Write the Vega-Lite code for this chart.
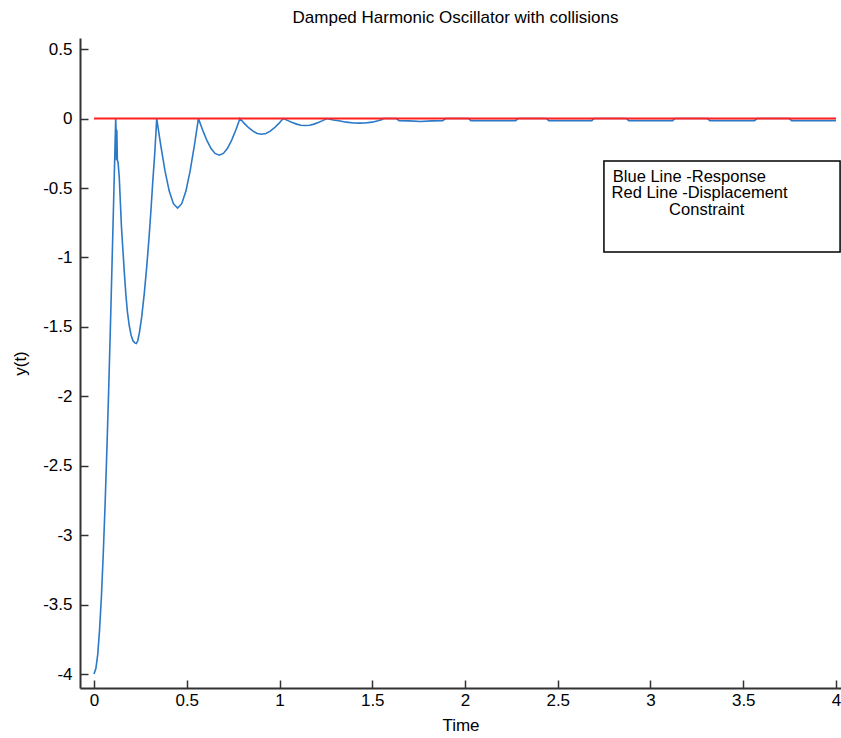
{
  "$schema": "https://vega.github.io/schema/vega-lite/v6.json",
  "width": 761,
  "height": 650,
  "autosize": {"type": "none"},
  "padding": {"left": 80, "top": 38, "right": 0, "bottom": 50},
  "background": "white",
  "title": {"text": "Damped Harmonic Oscillator with collisions", "font": "Liberation Sans", "fontSize": 17, "fontWeight": "normal", "color": "#000000", "anchor": "middle", "offset": 11, "dx": -5},
  "config": {
    "view": {"stroke": null},
    "axis": {"labelFont": "Liberation Sans", "titleFont": "Liberation Sans", "labelFontSize": 17, "titleFontSize": 17, "titleFontWeight": "normal", "labelColor": "#000000", "titleColor": "#000000", "domainColor": "#333333", "tickColor": "#333333", "domainWidth": 2, "tickWidth": 1.5, "tickSize": -8, "grid": false, "labelFlush": false}
  },
  "datasets": {
    "response": [
      {"t": 0, "y": -4.0}, {"t": 0.01, "y": -3.96}, {"t": 0.02, "y": -3.86}, {"t": 0.03, "y": -3.68}, {"t": 0.04, "y": -3.44},
      {"t": 0.05, "y": -3.13}, {"t": 0.06, "y": -2.77}, {"t": 0.07, "y": -2.36}, {"t": 0.08, "y": -1.91}, {"t": 0.09, "y": -1.42},
      {"t": 0.1, "y": -0.9}, {"t": 0.108, "y": -0.48}, {"t": 0.114, "y": -0.16}, {"t": 0.117, "y": 0},
      {"t": 0.119, "y": -0.08}, {"t": 0.121, "y": -0.3}, {"t": 0.123, "y": -0.08}, {"t": 0.126, "y": -0.3}, {"t": 0.13, "y": -0.32},
      {"t": 0.136, "y": -0.42}, {"t": 0.142, "y": -0.6}, {"t": 0.148, "y": -0.78}, {"t": 0.156, "y": -0.95}, {"t": 0.164, "y": -1.12},
      {"t": 0.172, "y": -1.27}, {"t": 0.18, "y": -1.39}, {"t": 0.19, "y": -1.49}, {"t": 0.2, "y": -1.56}, {"t": 0.21, "y": -1.6},
      {"t": 0.22, "y": -1.615}, {"t": 0.228, "y": -1.62}, {"t": 0.236, "y": -1.6}, {"t": 0.245, "y": -1.54}, {"t": 0.257, "y": -1.43},
      {"t": 0.271, "y": -1.26}, {"t": 0.284, "y": -1.07}, {"t": 0.296, "y": -0.87}, {"t": 0.307, "y": -0.66}, {"t": 0.316, "y": -0.47},
      {"t": 0.327, "y": -0.26}, {"t": 0.334, "y": -0.1}, {"t": 0.338, "y": 0},
      {"t": 0.3605, "y": -0.199}, {"t": 0.383, "y": -0.379}, {"t": 0.4055, "y": -0.522}, {"t": 0.428, "y": -0.613}, {"t": 0.4505, "y": -0.645},
      {"t": 0.473, "y": -0.613}, {"t": 0.4955, "y": -0.522}, {"t": 0.518, "y": -0.379}, {"t": 0.5405, "y": -0.199}, {"t": 0.563, "y": 0},
      {"t": 0.5854, "y": -0.082}, {"t": 0.6078, "y": -0.155}, {"t": 0.6302, "y": -0.214}, {"t": 0.6526, "y": -0.251}, {"t": 0.675, "y": -0.264},
      {"t": 0.6974, "y": -0.251}, {"t": 0.7198, "y": -0.214}, {"t": 0.7422, "y": -0.155}, {"t": 0.7646, "y": -0.082}, {"t": 0.787, "y": 0},
      {"t": 0.8103, "y": -0.035}, {"t": 0.8336, "y": -0.066}, {"t": 0.8569, "y": -0.091}, {"t": 0.8802, "y": -0.107}, {"t": 0.9035, "y": -0.113},
      {"t": 0.9268, "y": -0.107}, {"t": 0.9501, "y": -0.091}, {"t": 0.9734, "y": -0.066}, {"t": 0.9967, "y": -0.035}, {"t": 1.02, "y": 0},
      {"t": 1.0454, "y": -0.015}, {"t": 1.0688, "y": -0.029}, {"t": 1.0922, "y": -0.04}, {"t": 1.1156, "y": -0.048}, {"t": 1.139, "y": -0.05},
      {"t": 1.1624, "y": -0.048}, {"t": 1.1858, "y": -0.04}, {"t": 1.2092, "y": -0.029}, {"t": 1.2326, "y": -0.015}, {"t": 1.256, "y": 0},
      {"t": 1.29, "y": -0.01}, {"t": 1.32, "y": -0.016}, {"t": 1.36, "y": -0.026}, {"t": 1.4, "y": -0.032}, {"t": 1.43, "y": -0.033},
      {"t": 1.46, "y": -0.032}, {"t": 1.5, "y": -0.026}, {"t": 1.53, "y": -0.016}, {"t": 1.55, "y": -0.008}, {"t": 1.56, "y": 0},
      {"t": 1.63, "y": 0}, {"t": 1.645, "y": -0.015}, {"t": 1.7, "y": -0.017}, {"t": 1.76, "y": -0.021}, {"t": 1.82, "y": -0.017},
      {"t": 1.88, "y": -0.015}, {"t": 1.895, "y": 0},
      {"t": 2.02, "y": 0}, {"t": 2.032, "y": -0.015}, {"t": 2.273, "y": -0.015}, {"t": 2.285, "y": 0},
      {"t": 2.44, "y": 0}, {"t": 2.452, "y": -0.015}, {"t": 2.683, "y": -0.015}, {"t": 2.695, "y": 0},
      {"t": 2.871, "y": 0}, {"t": 2.883, "y": -0.015}, {"t": 3.119, "y": -0.015}, {"t": 3.131, "y": 0},
      {"t": 3.308, "y": 0}, {"t": 3.32, "y": -0.015}, {"t": 3.561, "y": -0.015}, {"t": 3.573, "y": 0},
      {"t": 3.749, "y": 0}, {"t": 3.761, "y": -0.015}, {"t": 4.0, "y": -0.015}
    ],
    "constraint": [{"t": 0, "y": 0}, {"t": 4.0, "y": 0}],
    "box": [{"t": 2.749, "t2": 4.022, "y": -0.306, "y2": -0.961}],
    "notesLeft": [
      {"t": 2.797, "y": -0.455, "label": "Blue Line -Response"},
      {"t": 2.79, "y": -0.575, "label": "Red Line -Displacement"}
    ],
    "notesCenter": [{"t": 3.303, "y": -0.695, "label": "Constraint"}]
  },
  "layer": [
    {
      "data": {"name": "response"},
      "mark": {"type": "line", "color": "#2c79c7", "strokeWidth": 1.6, "clip": true},
      "encoding": {
        "x": {"field": "t", "type": "quantitative", "scale": {"domain": [-0.0755, 4.027], "nice": false, "zero": false},
          "axis": {"title": "Time", "values": [0, 0.5, 1, 1.5, 2, 2.5, 3, 3.5, 4], "format": "~g", "labelExpr": "replace(datum.label, '\u2212', '-')", "labelPadding": 12, "titlePadding": 9}},
        "y": {"field": "y", "type": "quantitative", "scale": {"domain": [-4.1, 0.58], "nice": false, "zero": false},
          "axis": {"title": "y(t)", "values": [-4, -3.5, -3, -2.5, -2, -1.5, -1, -0.5, 0, 0.5], "format": "~g", "labelExpr": "replace(datum.label, '\u2212', '-')", "labelPadding": 16, "titlePadding": 13}}
      }
    },
    {
      "data": {"name": "constraint"},
      "mark": {"type": "line", "color": "#ff2020", "strokeWidth": 2},
      "encoding": {
        "x": {"field": "t", "type": "quantitative"},
        "y": {"field": "y", "type": "quantitative"}
      }
    },
    {
      "data": {"name": "box"},
      "mark": {"type": "rect", "fill": "white", "stroke": "#000000", "strokeWidth": 1.5},
      "encoding": {
        "x": {"field": "t", "type": "quantitative"},
        "x2": {"field": "t2"},
        "y": {"field": "y", "type": "quantitative"},
        "y2": {"field": "y2"}
      }
    },
    {
      "data": {"name": "notesLeft"},
      "mark": {"type": "text", "align": "left", "baseline": "alphabetic", "font": "Liberation Sans", "fontSize": 16.5, "color": "#000000"},
      "encoding": {
        "x": {"field": "t", "type": "quantitative"},
        "y": {"field": "y", "type": "quantitative"},
        "text": {"field": "label"}
      }
    },
    {
      "data": {"name": "notesCenter"},
      "mark": {"type": "text", "align": "center", "baseline": "alphabetic", "font": "Liberation Sans", "fontSize": 16.5, "color": "#000000"},
      "encoding": {
        "x": {"field": "t", "type": "quantitative"},
        "y": {"field": "y", "type": "quantitative"},
        "text": {"field": "label"}
      }
    }
  ]
}
